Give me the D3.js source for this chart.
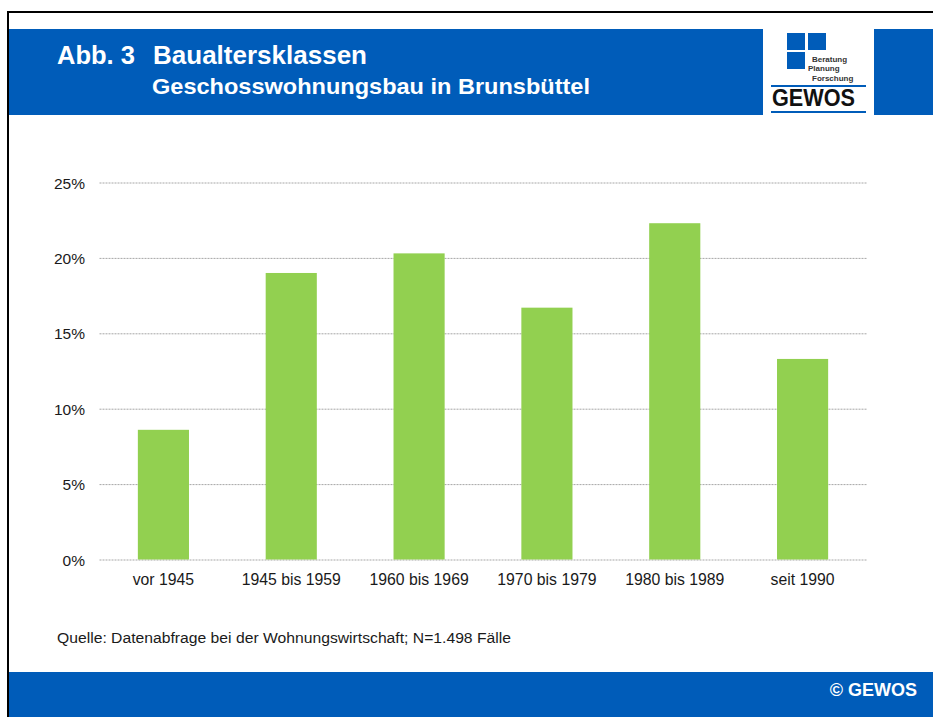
<!doctype html>
<html>
<head>
<meta charset="utf-8" />
<title>Baualtersklassen – Brunsbüttel</title>
<script src="https://cdn.jsdelivr.net/npm/d3@7"></script>
<style>
  html,body{margin:0;padding:0;background:#fff}
  svg{display:block;font-family:"Liberation Sans", Arial, sans-serif}
  .grid line{stroke:#a6a6a6;stroke-width:1;stroke-dasharray:2 1}
  .grid path{display:none}
  .axis text{fill:#1a1a1a}
  .axis path,.axis line{display:none}
</style>
</head>
<body>
<svg id="chart" width="933" height="717"></svg>
<script>
// ── data ────────────────────────────────────────────
const categories = ['vor 1945','1945 bis 1959','1960 bis 1969','1970 bis 1979','1980 bis 1989','seit 1990'];
const shares     = [8.6, 19.0, 20.3, 16.7, 22.3, 13.3];   // % der Wohnungen
const yTicks     = [0, 5, 10, 15, 20, 25];

const blue = '#005cb9', green = '#92d050';
const svg = d3.select('#chart');

// ── frame + header band ─────────────────────────────
svg.append('rect').attr('x',8).attr('y',12).attr('width',940).attr('height',720)
   .attr('fill','none').attr('stroke','#000').attr('stroke-width',2);

svg.append('rect').attr('x',9).attr('y',29).attr('width',754).attr('height',86).attr('fill',blue);
svg.append('rect').attr('x',874).attr('y',29).attr('width',59).attr('height',86).attr('fill',blue);

const head = svg.append('g').attr('fill','#fff').attr('font-weight','bold');
head.append('text').attr('x',57).attr('y',63.5).attr('font-size',25)
    .attr('textLength',78).attr('lengthAdjust','spacingAndGlyphs').text('Abb. 3');
head.append('text').attr('x',153).attr('y',63.5).attr('font-size',25)
    .attr('textLength',214).attr('lengthAdjust','spacingAndGlyphs').text('Baualtersklassen');
head.append('text').attr('x',152).attr('y',94).attr('font-size',22.5)
    .attr('textLength',438).attr('lengthAdjust','spacingAndGlyphs').text('Geschosswohnungsbau in Brunsbüttel');

// ── logo ────────────────────────────────────────────
const logo = svg.append('g');
[[787,33],[808,33],[787,52]].forEach(([x,y]) =>
  logo.append('rect').attr('x',x).attr('y',y).attr('width',18).attr('height',17).attr('fill',blue));
[['Beratung',812,61.5],['Planung',808,71],['Forschung',812,80.5]].forEach(([t,x,y]) =>
  logo.append('text').attr('x',x).attr('y',y).attr('font-size',8).attr('font-weight','bold')
      .attr('fill','#333').text(t));
logo.append('rect').attr('x',771).attr('y',85).attr('width',95).attr('height',2).attr('fill',blue);
logo.append('rect').attr('x',771).attr('y',111).attr('width',95).attr('height',2).attr('fill',blue);
logo.append('text').attr('x',772).attr('y',106).attr('font-size',23).attr('font-weight','bold')
    .attr('fill','#111').attr('textLength',83).attr('lengthAdjust','spacingAndGlyphs').text('GEWOS');

// ── chart ───────────────────────────────────────────
const x = d3.scaleBand().domain(categories).range([99.5, 866.5]).paddingInner(0.6).paddingOuter(0.3);
const y = d3.scaleLinear().domain([0, 25]).range([559.5, 182.5]);

svg.append('g').attr('class','grid')
   .attr('transform','translate(99.5,0)')
   .call(d3.axisLeft(y).tickValues(yTicks).tickSize(-767).tickFormat(''));

svg.append('g').selectAll('rect').data(shares).join('rect')
   .attr('x',(d,i) => x(categories[i]))
   .attr('y',d => y(d))
   .attr('width',x.bandwidth())
   .attr('height',d => y(0) - y(d))
   .attr('fill',green);

svg.append('g').attr('class','axis')
   .attr('transform','translate(85,0)')
   .call(d3.axisLeft(y).tickValues(yTicks).tickSize(0).tickPadding(0).tickFormat(d => d + '%'))
   .selectAll('text').attr('font-size',15.5).attr('dy','0.36em');

svg.append('g').attr('class','axis')
   .attr('transform','translate(0,585)')
   .call(d3.axisBottom(x).tickSize(0).tickPadding(0))
   .selectAll('text').attr('font-size',15.8).attr('dy',0);

// ── source + footer ─────────────────────────────────
svg.append('text').attr('x',57).attr('y',643).attr('font-size',15.5).attr('fill','#1a1a1a')
   .attr('textLength',454).attr('lengthAdjust','spacingAndGlyphs')
   .text('Quelle: Datenabfrage bei der Wohnungswirtschaft; N=1.498 Fälle');

svg.append('rect').attr('x',9).attr('y',672).attr('width',924).attr('height',45).attr('fill',blue);
svg.append('text').attr('x',917).attr('y',695.5).attr('text-anchor','end')
   .attr('font-size',18).attr('font-weight','bold').attr('fill','#fff').text('© GEWOS');
</script>
</body>
</html>
